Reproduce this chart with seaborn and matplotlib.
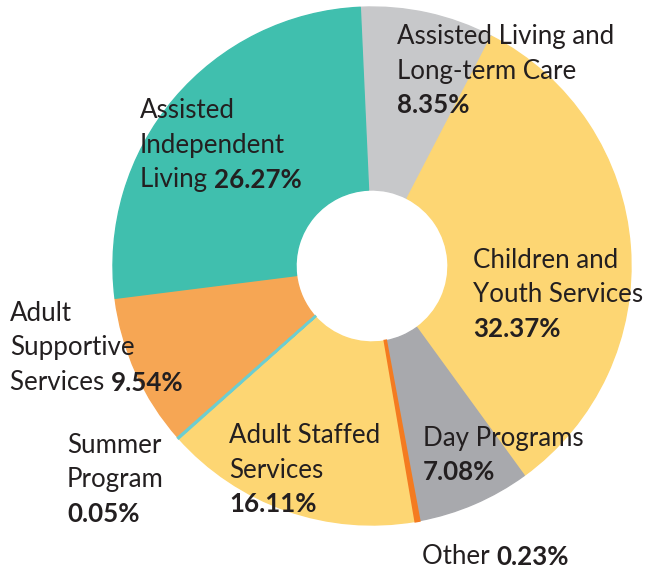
import matplotlib.pyplot as plt
import seaborn as sns

# Slice data, clockwise from the top
programs = ['Assisted Living and Long-term Care', 'Children and Youth Services',
            'Day Programs', 'Other', 'Adult Staffed Services', 'Summer Program',
            'Adult Supportive Services', 'Assisted Independent Living']
shares = [8.35, 32.37, 7.08, 0.23, 16.11, 0.05, 9.54, 26.27]
colors = ['#C7C8CA', '#FDD673', '#A8A9AD', '#F47B20', '#FDD673', '#6DCDCF',
          '#F6A654', '#40BFAE']

# Label text: plain lines, then a last line that ends with the bold percentage
label_lines = {
    'Assisted Living and Long-term Care': (['Assisted Living and', 'Long-term Care'], '', '8.35%'),
    'Children and Youth Services': (['Children and', 'Youth Services'], '', '32.37%'),
    'Day Programs': (['Day Programs'], '', '7.08%'),
    'Other': ([], 'Other ', '0.23%'),
    'Adult Staffed Services': (['Adult Staffed', 'Services'], '', '16.11%'),
    'Summer Program': (['Summer', 'Program'], '', '0.05%'),
    'Adult Supportive Services': (['Adult', 'Supportive'], 'Services ', '9.54%'),
    'Assisted Independent Living': (['Assisted', 'Independent'], 'Living ', '26.27%'),
}
# top-left position of each label block (in pixels)
label_pos = {
    'Assisted Living and Long-term Care': (397, 24),
    'Children and Youth Services': (473, 248),
    'Day Programs': (423, 426),
    'Other': (422, 544),
    'Adult Staffed Services': (229, 423),
    'Summer Program': (67, 433),
    'Adult Supportive Services': (10, 301),
    'Assisted Independent Living': (140, 98),
}

W, H = 646, 570
sns.set_theme(style="white")
plt.rcParams['font.family'] = ['Lato', 'DejaVu Sans']

fig = plt.figure(figsize=(W / 100, H / 100), dpi=100)
ax = fig.add_axes([0, 0, 1, 1])

cx, cy, r_out, r_in = 372, H - 266, 259, 76
wedges, _ = ax.pie(shares, colors=colors, startangle=92.6, counterclock=False,
                   center=(cx, cy), radius=r_out, frame=True,
                   wedgeprops=dict(width=r_out - r_in, linewidth=1))
for w, c, s in zip(wedges, colors, shares):
    w.set_edgecolor(c)
    if s < 1:
        # keep the very thin slices visible on top of their neighbours
        w.set_zorder(3)
        w.set_linewidth(1.8)
ax.set_xlim(0, W)
ax.set_ylim(0, H)
ax.set_aspect('equal')
ax.axis('off')

txt_color = '#231F20'
fs = 18.6
line_h = 34.5
for name in programs:
    lines, prefix, pct = label_lines[name]
    x0, y0 = label_pos[name]
    for i, ln in enumerate(lines):
        ax.text(x0, H - (y0 + i * line_h), ln, fontsize=fs,
                color=txt_color, ha='left', va='top')
    y_last = H - (y0 + len(lines) * line_h)
    if prefix:
        t = ax.text(x0, y_last, prefix, fontsize=fs, color=txt_color,
                    ha='left', va='top')
        ax.annotate(pct, xy=(1, 0), xycoords=t, ha='left', va='bottom',
                    fontsize=fs, fontweight='bold', color=txt_color)
    else:
        ax.text(x0, y_last, pct, fontsize=fs, fontweight='bold',
                color=txt_color, ha='left', va='top')

fig.savefig('out.png', dpi=100)
